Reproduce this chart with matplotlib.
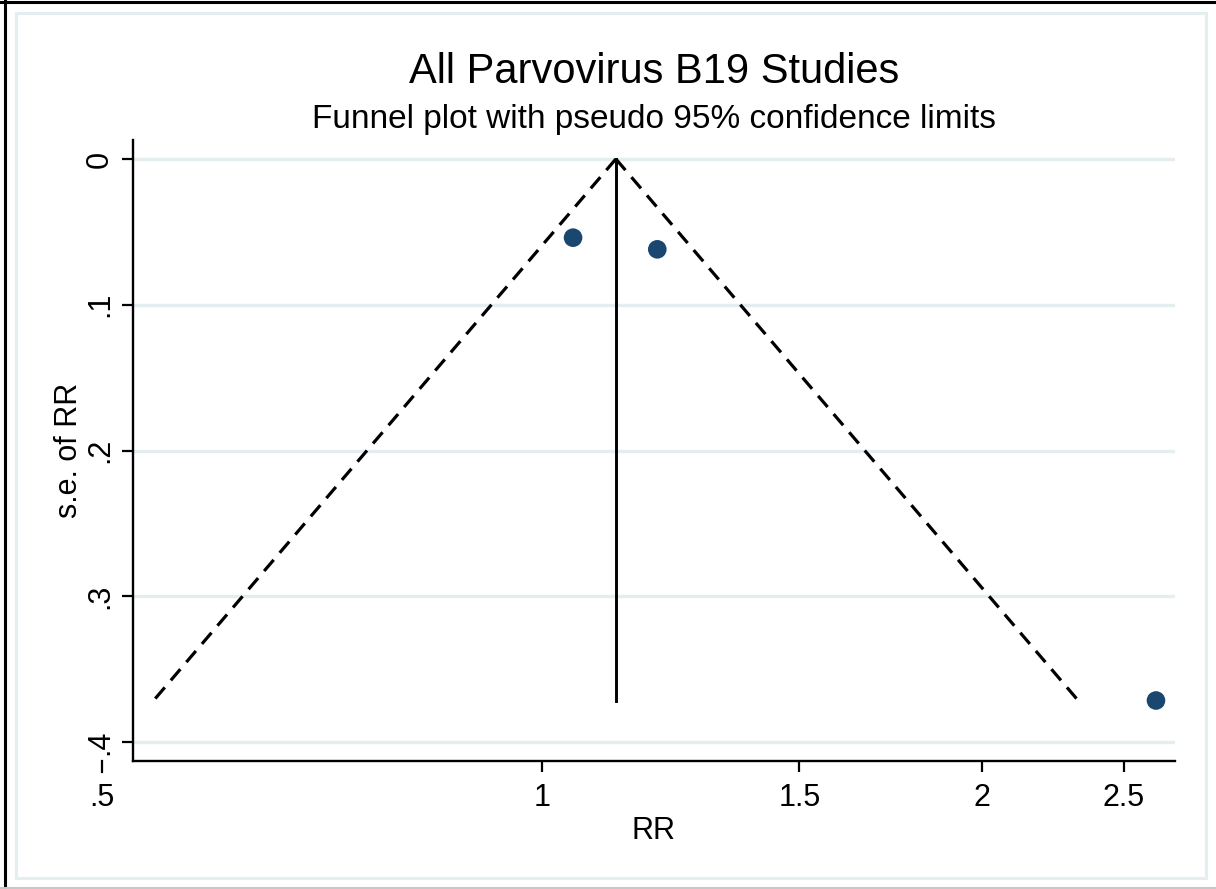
"""Funnel plot – All Parvovirus B19 studies (Stata-style)."""

import numpy as np
import matplotlib
matplotlib.use("Agg")
import matplotlib.pyplot as plt
from matplotlib.patches import Rectangle
from matplotlib.lines import Line2D
import matplotlib.transforms as mtransforms

plt.rcParams["font.family"] = ["Liberation Sans", "DejaVu Sans"]

# study estimates
rr = [1.05, 1.199, 2.63]
se_rr = [0.054, 0.062, 0.3715]

x_ticks = [0.5, 1, 1.5, 2, 2.5]
x_ticklabels = [".5", "1", "1.5", "2", "2.5"]
y_ticks = [0, 0.1, 0.2, 0.3, 0.4]
y_ticklabels = ["0", ".1", ".2", ".3", ".4"]

NAVY = "#1a476f"
GRID = "#e4eef1"

# fixed-effect pooled estimate on log scale, funnel limits
log_rr = np.log(rr)
se = np.array(se_rr)
w = 1 / se**2
theta = np.sum(w * log_rr) / np.sum(w)
se_max = se.max()
se_line = np.array([0, se_max])

W, H = 1216, 889
fig = plt.figure(figsize=(W / 100, H / 100), dpi=100, facecolor="white")

# outer frame pieces (screenshot border + Stata graph region)
fig.add_artist(Line2D([0, 1], [1 - 1.5 / H] * 2, transform=fig.transFigure,
                      color="black", lw=2.2))
fig.add_artist(Line2D([5 / W] * 2, [0, 1], transform=fig.transFigure,
                      color="black", lw=2.2))
fig.add_artist(Line2D([0, 1], [1.2 / H] * 2, transform=fig.transFigure,
                      color="#c8c8c8", lw=1.5))
fig.add_artist(Rectangle((16 / W, 1 - 878 / H), (1206 - 16) / W, (878 - 13) / H,
                         transform=fig.transFigure, fill=False,
                         edgecolor=GRID, lw=2.2))

left, right, top, bottom = 133, 1175, 140, 761
ax = fig.add_axes([left / W, 1 - bottom / H, (right - left) / W, (bottom - top) / H])
ax.set_facecolor("white")

ax.set_xscale("log")
ax.set_xlim(0.525, 2.71)
ax.set_ylim(0.413, -0.013)

# grid
ax.hlines(y_ticks, 0.525, 2.71, color=GRID, lw=2.4, zorder=0)

# funnel
ax.plot(np.exp(theta - 1.96 * se_line), se_line, color="black", lw=2.3,
        dashes=(4.6, 2.9))
ax.plot(np.exp(theta + 1.96 * se_line), se_line, color="black", lw=2.3,
        dashes=(4.6, 2.9))
ax.plot([np.exp(theta)] * 2, se_line, color="black", lw=2.1)

ax.scatter(rr, se_rr, s=180, color=NAVY, zorder=3, edgecolors="none")

for side in ("top", "right"):
    ax.spines[side].set_visible(False)
for side in ("left", "bottom"):
    ax.spines[side].set_linewidth(1.7)

ax.set_yticks(y_ticks)
ax.set_yticklabels(y_ticklabels, rotation=90, va="center", fontsize=22)
ax.xaxis.set_minor_locator(matplotlib.ticker.NullLocator())
ax.set_xticks(x_ticks[1:])
ax.set_xticklabels(x_ticklabels[1:], fontsize=22)
ax.tick_params(axis="both", length=8, width=1.6, color="black")
ax.tick_params(axis="x", pad=8)
ax.tick_params(axis="y", pad=5)

# the .5 tick lies just left of the plot region, as Stata draws it
trans = mtransforms.blended_transform_factory(ax.transData, ax.transAxes)
ax.plot([x_ticks[0]] * 2, [0, -11 / (bottom - top)], transform=trans,
        color="black", lw=1.6, clip_on=False)
ax.text(x_ticks[0], -22 / (bottom - top), x_ticklabels[0], transform=trans,
        ha="center", va="top", fontsize=22)

ax.set_xlabel("RR", fontsize=22, labelpad=2)
ax.set_ylabel("s.e. of RR", fontsize=22, labelpad=1)

cx = (left + right) / 2 / W
fig.text(cx, 1 - 83 / H, "All Parvovirus B19 Studies", ha="center",
         va="baseline", fontsize=30)
fig.text(cx, 1 - 128 / H, "Funnel plot with pseudo 95% confidence limits",
         ha="center", va="baseline", fontsize=24)

fig.savefig("out.png", dpi=100, facecolor="white")
